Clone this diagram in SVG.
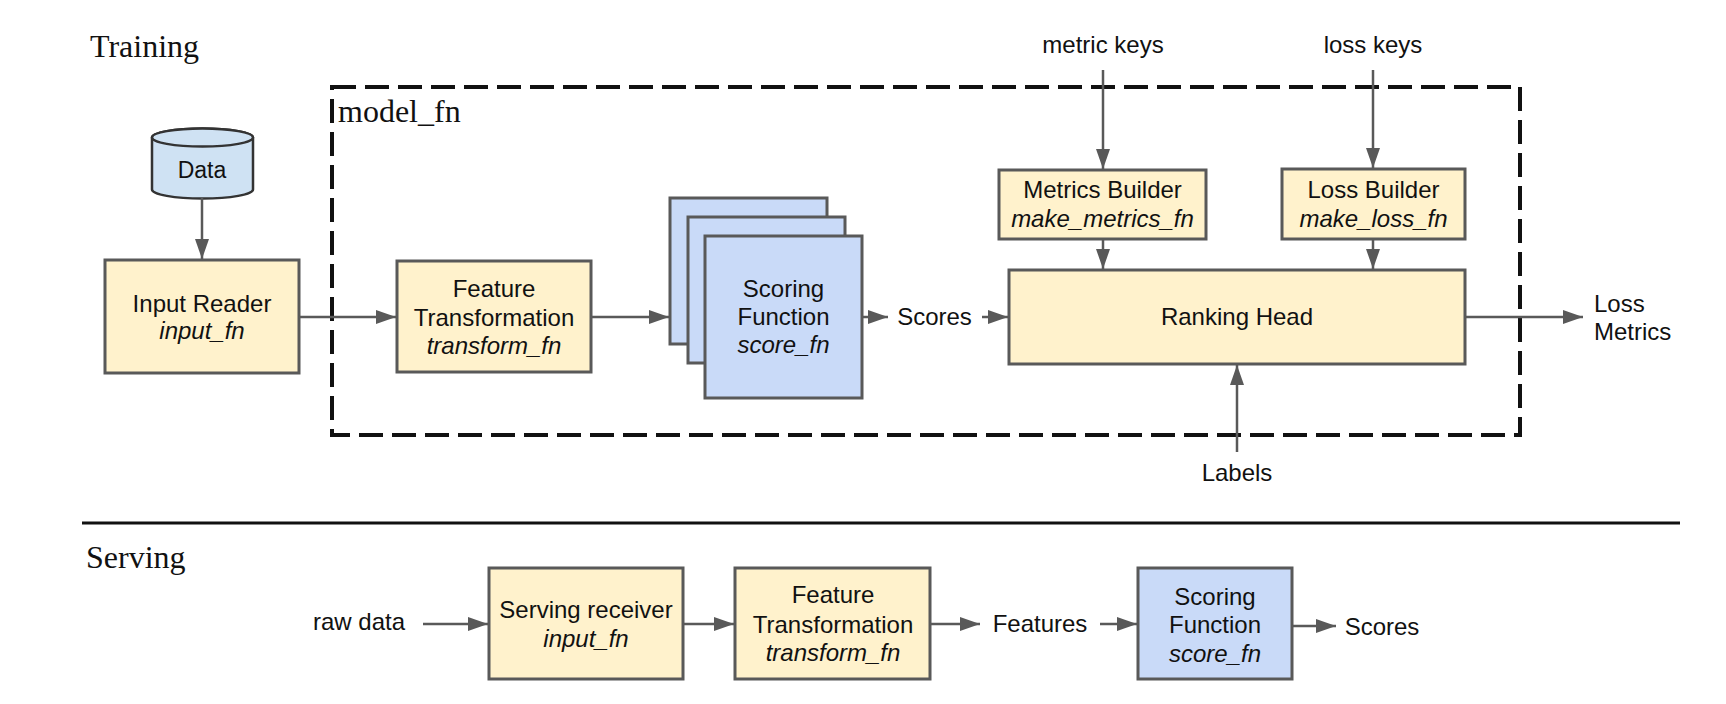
<svg xmlns="http://www.w3.org/2000/svg" width="1726" height="704" viewBox="0 0 1726 704">
<style>
.t{font-family:"Liberation Sans",Arial,sans-serif;font-size:24px;fill:#111;text-anchor:middle}
.i{font-style:italic}
.s{font-family:"Liberation Serif","Times New Roman",serif;font-size:32px;fill:#111}
.y{fill:#fff2cc;stroke:#595959;stroke-width:3}
.b{fill:#c9daf8;stroke:#595959;stroke-width:3}
.c{stroke:#595959;stroke-width:2.5;fill:none;marker-end:url(#ah)}
</style>
<defs>
<marker id="ah" markerUnits="userSpaceOnUse" markerWidth="20" markerHeight="14" refX="20" refY="7" orient="auto">
<path d="M0,0 L20,7 L0,14 Z" fill="#595959"/>
</marker>
</defs>
<rect width="1726" height="704" fill="#fff"/>

<text class="s" x="90" y="57">Training</text>
<text class="s" x="86" y="568">Serving</text>
<line x1="82" y1="523" x2="1680" y2="523" stroke="#111" stroke-width="3"/>

<g id="model_fn">
<rect x="332" y="87" width="1188" height="348" fill="none" stroke="#111" stroke-width="4" stroke-dasharray="24 9"/>
<text class="s" x="338" y="122">model_fn</text>
</g>

<g id="data">
<path d="M152,137.5 L152,189.5 A50.5,9 0 0 0 253,189.5 L253,137.5 A50.5,9 0 0 0 152,137.5 Z" fill="#cfe2f3" stroke="#333" stroke-width="2.5"/>
<ellipse cx="202.5" cy="137.5" rx="50.5" ry="9" fill="#cfe2f3" stroke="#333" stroke-width="2.5"/>
<text class="t" x="202" y="178" style="font-size:23px">Data</text>
</g>

<g id="input_reader">
<rect class="y" x="105" y="260" width="194" height="113"/>
<text class="t" x="202" y="312">Input Reader</text>
<text class="t i" x="202" y="339">input_fn</text>
</g>

<g id="feature_transformation">
<rect class="y" x="397" y="261" width="194" height="111"/>
<text class="t" x="494" y="297">Feature</text>
<text class="t" x="494" y="326">Transformation</text>
<text class="t i" x="494" y="354">transform_fn</text>
</g>

<g id="scoring_function">
<rect class="b" x="670" y="198" width="157" height="146"/>
<rect class="b" x="688" y="217" width="157" height="146"/>
<rect class="b" x="705" y="236" width="157" height="162"/>
<text class="t" x="783.5" y="297">Scoring</text>
<text class="t" x="783.5" y="325">Function</text>
<text class="t i" x="783.5" y="353">score_fn</text>
</g>

<g id="scores_label"><text class="t" x="934.5" y="325">Scores</text></g>

<g id="metrics_builder">
<rect class="y" x="999" y="170" width="207" height="69"/>
<text class="t" x="1102.5" y="198">Metrics Builder</text>
<text class="t i" x="1102.5" y="227">make_metrics_fn</text>
</g>

<g id="loss_builder">
<rect class="y" x="1282" y="169" width="183" height="70"/>
<text class="t" x="1373.5" y="198">Loss Builder</text>
<text class="t i" x="1373.5" y="227">make_loss_fn</text>
</g>

<g id="ranking_head">
<rect class="y" x="1009" y="270" width="456" height="94"/>
<text class="t" x="1237" y="325">Ranking Head</text>
</g>

<g id="metric_keys"><text class="t" x="1103" y="53">metric keys</text></g>
<g id="loss_keys"><text class="t" x="1373" y="53">loss keys</text></g>
<g id="labels"><text class="t" x="1237" y="481">Labels</text></g>
<g id="outputs">
<text class="t" x="1594" y="312" style="text-anchor:start">Loss</text>
<text class="t" x="1594" y="340" style="text-anchor:start">Metrics</text>
</g>

<g id="raw_data"><text class="t" x="359" y="630">raw data</text></g>

<g id="serving_receiver">
<rect class="y" x="489" y="568" width="194" height="111"/>
<text class="t" x="586" y="618">Serving receiver</text>
<text class="t i" x="586" y="647">input_fn</text>
</g>

<g id="serving_feature_transformation">
<rect class="y" x="735" y="568" width="195" height="111"/>
<text class="t" x="833" y="603">Feature</text>
<text class="t" x="833" y="633">Transformation</text>
<text class="t i" x="833" y="661">transform_fn</text>
</g>

<g id="features_label"><text class="t" x="1040" y="632">Features</text></g>

<g id="serving_scoring_function">
<rect class="b" x="1138" y="568" width="154" height="111"/>
<text class="t" x="1215" y="605">Scoring</text>
<text class="t" x="1215" y="633">Function</text>
<text class="t i" x="1215" y="662">score_fn</text>
</g>

<g id="serving_scores"><text class="t" x="1382" y="635">Scores</text></g>

<g id="connectors">
<line class="c" x1="202" y1="198" x2="202" y2="259"/>
<line class="c" x1="299" y1="317" x2="396" y2="317"/>
<line class="c" x1="591" y1="317" x2="669" y2="317"/>
<line class="c" x1="862" y1="317" x2="888" y2="317"/>
<line class="c" x1="982" y1="317" x2="1008" y2="317"/>
<line class="c" x1="1103" y1="70" x2="1103" y2="169"/>
<line class="c" x1="1373" y1="70" x2="1373" y2="168"/>
<line class="c" x1="1103" y1="239" x2="1103" y2="269"/>
<line class="c" x1="1373" y1="239" x2="1373" y2="269"/>
<line class="c" x1="1465" y1="317" x2="1583" y2="317"/>
<line class="c" x1="1237" y1="452" x2="1237" y2="365"/>
<line class="c" x1="423" y1="624" x2="488" y2="624"/>
<line class="c" x1="683" y1="624" x2="734" y2="624"/>
<line class="c" x1="930" y1="624" x2="980" y2="624"/>
<line class="c" x1="1100" y1="624" x2="1137" y2="624"/>
<line class="c" x1="1292" y1="626" x2="1336" y2="626"/>
</g>
</svg>
